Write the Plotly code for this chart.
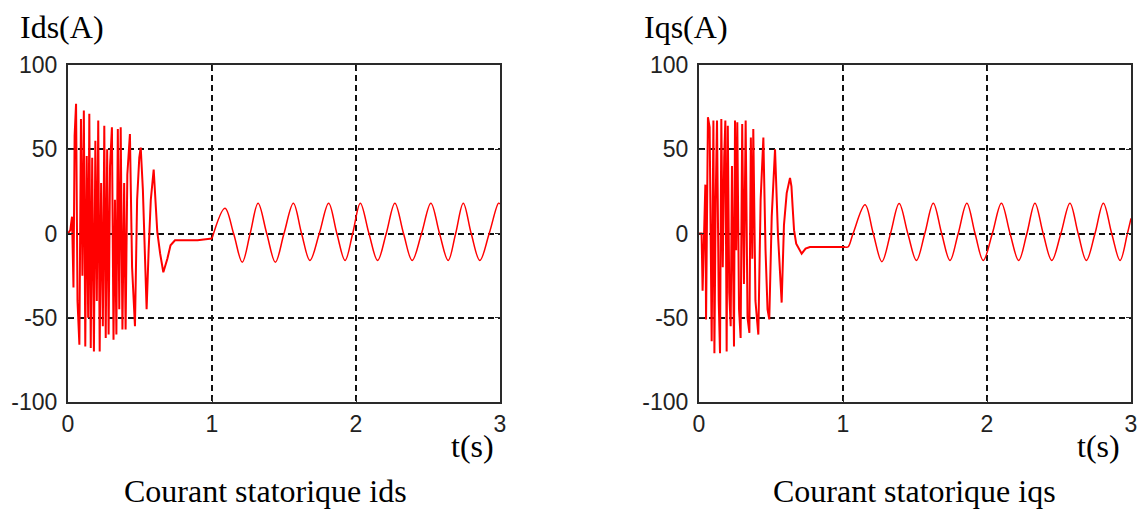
import plotly.graph_objects as go

# ---------------- data ----------------
# Ids : start-up transient (0 - 1 s)
ids_t_start = [0.000, 0.016, 0.028, 0.038, 0.046, 0.056, 0.066, 0.079, 0.090, 0.100,
               0.110, 0.120, 0.130, 0.140, 0.148, 0.158, 0.168, 0.180, 0.190, 0.200,
               0.210, 0.220, 0.230, 0.242, 0.252, 0.262, 0.272, 0.282, 0.292, 0.305,
               0.316, 0.326, 0.336, 0.346, 0.356, 0.366, 0.378, 0.390, 0.400, 0.412,
               0.430, 0.445, 0.465, 0.480, 0.495, 0.505, 0.520, 0.546, 0.560, 0.575,
               0.595, 0.605, 0.620, 0.640, 0.662, 0.690, 0.712, 0.743, 0.800, 0.900, 1.000]
ids_v_start = [0, 2, 10, -32, 58, 77, -40, -66, 68, -25,
               73, -67, 46, -50, 71, -68, 45, -70, 55, -40,
               67, -70, 30, -55, 64, -62, 50, -60, 40, 63,
               -63, 20, -60, 62, -45, 63, -57, 30, -57, 35,
               59, -20, -55, 20, 45, 51, 26, -45, -10, 20,
               38, 25, 1, -12, -23, -15, -7, -4, -4, -4, -3]
# Ids : steady state (1 - 3 s) peaks / zero crossings / troughs
ids_t_steady = [1.000, 1.090, 1.150, 1.210, 1.265, 1.320, 1.380, 1.440, 1.500, 1.565,
                1.622, 1.680, 1.745, 1.810, 1.867, 1.924, 1.977, 2.030, 2.090, 2.150,
                2.210, 2.270, 2.330, 2.390, 2.455, 2.520, 2.580, 2.640, 2.692, 2.745,
                2.800, 2.860, 2.925, 2.990, 3.000]
ids_v_steady = [-3, 15, 0, -17, 0, 18, 0, -17, 0, 18,
                0, -16, 0, 18, 0, -16, 0, 18, 0, -16,
                0, 18, 0, -16, 0, 18, 0, -16, 0, 18,
                0, -16, 0, 18, 17.5]

# Iqs : start-up transient (0 - 1 s)
iqs_t_start = [0.000, 0.018, 0.025, 0.044, 0.049, 0.062, 0.074, 0.088, 0.100, 0.107,
               0.116, 0.125, 0.137, 0.146, 0.155, 0.165, 0.175, 0.183, 0.192, 0.200,
               0.210, 0.220, 0.229, 0.243, 0.250, 0.258, 0.266, 0.278, 0.289, 0.300,
               0.312, 0.324, 0.337, 0.350, 0.360, 0.370, 0.377, 0.392, 0.412, 0.428,
               0.447, 0.462, 0.476, 0.488, 0.505, 0.528, 0.548, 0.574, 0.590, 0.609,
               0.632, 0.642, 0.650, 0.660, 0.675, 0.713, 0.740, 0.770, 0.900, 1.014]
iqs_v_start = [0, 0, -34, 29, -51, 69, 63, -64, 67, -71,
               20, 67, -40, -71, 68, -20, 45, 67, -70, 64,
               -35, -55, 40, -67, 67, -10, 66, -45, -62, 65,
               -30, 67, -50, -59, 57, -15, 62, -40, -60, 20,
               57, -10, -45, -51, 10, 50, 0, -41, 5, 24,
               33, 28, 16, 2, -6, -12, -9, -8, -8, -8]
# Iqs : steady state (1 - 3 s)
iqs_t_steady = [1.014, 1.035, 1.070, 1.153, 1.210, 1.270, 1.330, 1.390, 1.450, 1.510,
                1.568, 1.627, 1.685, 1.743, 1.800, 1.860, 1.917, 1.974, 2.037, 2.100,
                2.160, 2.220, 2.277, 2.333, 2.390, 2.450, 2.513, 2.576, 2.633, 2.690,
                2.750, 2.808, 2.866, 2.924, 2.975, 3.000]
iqs_v_steady = [-8, -8, 0, 17, 0, -16.7, 0, 17.8, 0, -16,
                0, 18, 0, -16, 0, 18, 0, -16, 0, 18,
                0, -16, 0, 18, 0, -16, 0, 18, 0, -16,
                0, 18, 0, -16, 0, 9]

x_ticks = [0, 1, 2, 3]
x_ticktext = ["0", "1", "2", "3"]
y_ticks = [-100, -50, 0, 50, 100]
y_ticktext = ["-100", "-50", "0", "50", "100"]
x_range = [0, 3]
y_range = [-100, 100]

y_titles = ["Ids(A)", "Iqs(A)"]
x_title = "t(s)"
captions = ["Courant statorique ids", "Courant statorique iqs"]

# ---------------- figure ----------------
W, H = 1147, 510
L, R, T, B = 68, 16, 65, 108          # margins -> plot area 1063 x 337
PW = W - L - R
PH = H - T - B
RED = "#ff0000"
fig = go.Figure()

for t, v, ax in [(ids_t_start, ids_v_start, 1), (iqs_t_start, iqs_v_start, 2)]:
    fig.add_trace(go.Scatter(x=t, y=v, mode="lines",
                             line=dict(color=RED, width=2),
                             xaxis="x" if ax == 1 else "x2",
                             yaxis="y" if ax == 1 else "y2",
                             hoverinfo="skip"))
for t, v, ax in [(ids_t_steady, ids_v_steady, 1), (iqs_t_steady, iqs_v_steady, 2)]:
    fig.add_trace(go.Scatter(x=t, y=v, mode="lines",
                             line=dict(color=RED, width=1.5, shape="spline", smoothing=1),
                             xaxis="x" if ax == 1 else "x2",
                             yaxis="y" if ax == 1 else "y2",
                             hoverinfo="skip"))

tickfont = dict(family="Liberation Sans, Arial, sans-serif", size=23, color="#222222")
common = dict(showgrid=True, gridcolor="#111111", gridwidth=1.5, griddash="6px,4px",
              showline=True, linecolor="#2a2a2a", linewidth=2, mirror="ticks",
              ticks="inside", ticklen=5, tickcolor="#2a2a2a", tickwidth=1,
              tickfont=tickfont, zeroline=False, fixedrange=True, automargin=False)

fig.update_layout(
    width=W, height=H,
    margin=dict(l=L, r=R, t=T, b=B, autoexpand=False),
    paper_bgcolor="white", plot_bgcolor="white",
    showlegend=False,
    xaxis=dict(domain=[0, 432 / PW], range=x_range, tickvals=x_ticks, ticktext=x_ticktext,
               anchor="y", ticklabelstandoff=0, **common),
    yaxis=dict(domain=[0, 1], range=y_range, tickvals=y_ticks, ticktext=y_ticktext,
               anchor="x", ticklabelstandoff=4, **common),
    xaxis2=dict(domain=[(699 - L) / PW, 1], range=x_range, tickvals=x_ticks, ticktext=x_ticktext,
                anchor="y2", ticklabelstandoff=0, **common),
    yaxis2=dict(domain=[0, 1], range=y_range, tickvals=y_ticks, ticktext=y_ticktext,
                anchor="x2", ticklabelstandoff=4, **common),
)

# annotation positions given in figure pixels, converted to paper (plot-area) units
def px_x(p):
    return (p - L) / PW

def px_y(p):
    return 1 - (p - T) / PH

serif = dict(family="Liberation Serif, Times New Roman, serif", size=32, color="black")
ann = []
for i, (cx_title, cx_t, cx_cap) in enumerate([(62, 472, 265), (686, 1098, 914)]):
    ann.append(dict(x=px_x(cx_title), y=px_y(27), xref="paper", yref="paper",
                    text=y_titles[i], showarrow=False, font=serif,
                    xanchor="center", yanchor="middle"))
    ann.append(dict(x=px_x(cx_t), y=px_y(446), xref="paper", yref="paper",
                    text=x_title, showarrow=False, font=serif,
                    xanchor="center", yanchor="middle"))
    ann.append(dict(x=px_x(cx_cap), y=px_y(491), xref="paper", yref="paper",
                    text=captions[i], showarrow=False, font=serif,
                    xanchor="center", yanchor="middle"))
fig.update_layout(annotations=ann)

fig.write_html("out.html", config={"displayModeBar": False},
               post_script="document.body.style.margin='0px';")
